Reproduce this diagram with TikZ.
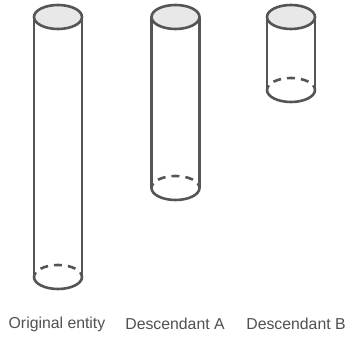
\documentclass[tikz,border=0pt]{standalone}
\usepackage{fontspec}
\setmainfont{Liberation Sans}
\definecolor{edge}{HTML}{555555}
\definecolor{lid}{HTML}{E8E8E8}
\definecolor{caption}{HTML}{505050}
\tikzset{
  wall/.style={draw=edge, line width=2.6pt},
  hidden/.style={wall, dash pattern=on 8pt off 6pt, dash phase=3pt},
  lbl/.style={text=caption, font=\fontsize{15.8}{18}\selectfont, inner sep=0pt}
}
% \drawcyl{center x}{top y}{bottom y}
\newcommand\drawcyl[3]{%
  \draw[wall] (#1-24,#2) -- (#1-24,#3);
  \draw[wall] (#1+24,#2) -- (#1+24,#3);
  \draw[wall] (#1+24,#3) arc[start angle=0, end angle=-180, x radius=24, y radius=12];
  \draw[hidden] (#1-24,#3) arc[start angle=180, end angle=0, x radius=24, y radius=12];
  \draw[wall, fill=lid] (#1,#2) ellipse[x radius=24, y radius=12];
}
\begin{document}
\begin{tikzpicture}[x=1pt, y=1pt]
  \fill[white] (0,0) rectangle (349,339);
  \useasboundingbox (0,0) rectangle (349,339);
  \drawcyl{58}{322}{62}
  \drawcyl{175.5}{322}{151}
  \drawcyl{291}{322}{249}
  \node[lbl] (orig) at (57,15) {Original entity};
  \node[lbl] (descA) at (175,15) {Descendant A};
  \node[lbl] (descB) at (296,15) {Descendant B};
\end{tikzpicture}
\end{document}
